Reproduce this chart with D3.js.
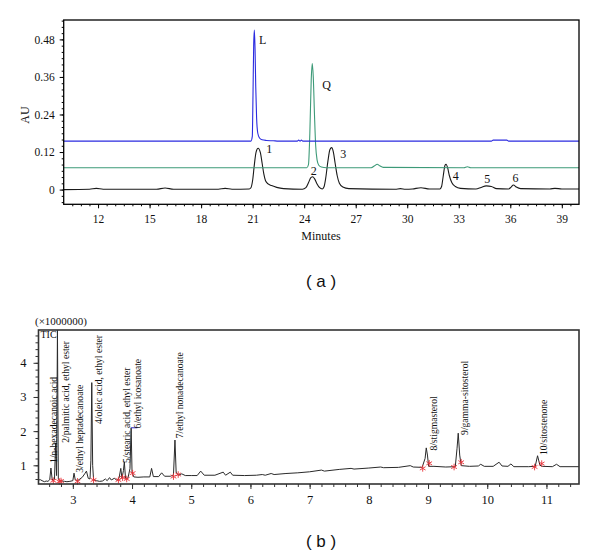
<!DOCTYPE html>
<meta charset="utf-8">
<style>
body { margin: 0; background: #fff; }
svg text { font-family: "Liberation Serif", "Times New Roman", serif; fill: #111; }
.cap { font-family: "Liberation Sans", Arial, sans-serif !important; }
</style>
<body>
<script src="https://cdnjs.cloudflare.com/ajax/libs/d3/7.8.5/d3.min.js"></script>
<script>

// ---- panel (a): HPLC, minutes vs AU ----
var aXTicks = [12, 15, 18, 21, 24, 27, 30, 33, 36, 39];
var aYTicks = [0, 0.12, 0.24, 0.36, 0.48];

var traceL = [[10,0.155],[20.9,0.155],[20.98,0.17],[21.02,0.3],[21.06,0.46],[21.1,0.51],[21.14,0.45],
  [21.18,0.33],[21.23,0.23],[21.3,0.18],[21.4,0.165],[21.55,0.159],[21.8,0.157],[22.2,0.156],[22.5,0.155],
  [23.6,0.155],[23.68,0.158],[23.76,0.155],[23.84,0.158],[23.92,0.155],[34.9,0.155],[35.0,0.158],
  [35.8,0.158],[35.9,0.155],[40,0.155]];

var traceQ = [[10,0.07],[24.15,0.07],[24.25,0.08],[24.33,0.18],[24.41,0.35],[24.47,0.403],[24.53,0.36],
  [24.6,0.24],[24.67,0.14],[24.75,0.095],[24.85,0.078],[25.0,0.072],[25.3,0.07],[27.9,0.07],[28.1,0.076],
  [28.25,0.081],[28.4,0.076],[28.6,0.071],[33.3,0.07],[33.5,0.073],[33.7,0.07],[40,0.07]];

var traceS = [[10,0],[11.5,0.001],[11.9,0.004],[12.3,0.001],[15.4,0.001],[15.9,0.005],[16.4,0.001],
  [19.0,0.001],[19.4,0.004],[19.8,0.001],[20.8,0.002],[20.9,0.006],[21.0,0.03],[21.1,0.08],[21.2,0.12],
  [21.32,0.132],[21.45,0.118],[21.55,0.085],[21.65,0.05],[21.75,0.028],[21.9,0.018],[22.1,0.013],
  [22.4,0.007],[22.8,0.003],[23.9,0.001],[24.1,0.006],[24.25,0.022],[24.4,0.039],[24.5,0.041],
  [24.6,0.035],[24.75,0.018],[24.9,0.006],[25.05,0.002],[25.15,0.008],[25.25,0.035],[25.38,0.09],
  [25.5,0.128],[25.6,0.134],[25.7,0.12],[25.8,0.085],[25.92,0.045],[26.05,0.02],[26.25,0.008],
  [26.6,0.003],[29.3,0.001],[29.6,0.003],[29.9,0.001],[30.3,0.002],[30.8,0.006],[31.3,0.002],
  [31.9,0.002],[32.0,0.01],[32.1,0.045],[32.2,0.078],[32.26,0.081],[32.35,0.07],[32.45,0.045],
  [32.6,0.022],[32.8,0.01],[33.1,0.004],[34.0,0.002],[34.3,0.007],[34.6,0.012],[34.9,0.01],[35.2,0.003],
  [35.9,0.002],[36.05,0.008],[36.18,0.0145],[36.35,0.008],[36.6,0.003],[38.3,0.002],[38.6,0.004],
  [39.0,0.002],[40,0.002]];

var aLabels = [["L",21.59,0.465],["Q",25.3,0.32],["1",21.96,0.117],["2",24.56,0.046],
  ["3",26.27,0.10],["4",32.82,0.03],["5",34.66,0.02],["6",36.3,0.023]];

// ---- panel (b): GC-MS TIC ----
var bXTicks = [3, 4, 5, 6, 7, 8, 9, 10, 11];
var bYTicks = [1, 2, 3, 4];

var tic = [[2.42,0.57],[2.45,0.58],[2.48,0.55],[2.52,0.52],[2.55,0.54],[2.58,0.53],[2.61,0.58],[2.63,0.92],
  [2.65,0.6],[2.67,0.55],[2.69,0.6],[2.71,1.65],[2.725,0.7],[2.74,4.96],[2.755,0.6],[2.78,0.55],[2.82,0.54],
  [2.86,0.53],[2.9,0.52],[2.95,0.53],[3.0,0.55],[3.02,0.77],[3.04,0.58],[3.08,0.55],[3.12,0.6],[3.16,0.65],
  [3.2,0.75],[3.23,0.83],[3.26,0.62],[3.29,0.6],[3.305,1.15],[3.32,3.42],[3.335,1.0],[3.35,0.58],
  [3.4,0.55],[3.45,0.53],[3.5,0.54],[3.55,0.6],[3.58,0.55],[3.62,0.64],[3.65,0.57],[3.7,0.62],[3.74,0.57],
  [3.78,0.62],[3.81,0.91],[3.83,0.62],[3.855,0.85],[3.87,1.1],[3.89,0.62],[3.93,0.62],[3.965,0.9],
  [3.985,2.1],[4.0,0.8],[4.03,0.66],[4.1,0.65],[4.2,0.66],[4.3,0.66],[4.33,0.91],[4.36,0.67],[4.45,0.67],
  [4.5,0.78],[4.55,0.68],[4.65,0.68],[4.7,0.72],[4.725,1.74],[4.745,0.8],[4.78,0.71],[4.84,0.75],
  [4.9,0.7],[5.0,0.7],[5.1,0.7],[5.16,0.83],[5.22,0.71],[5.4,0.71],[5.54,0.8],[5.58,0.71],[5.66,0.8],
  [5.7,0.71],[5.9,0.7],[6.1,0.71],[6.2,0.73],[6.25,0.71],[6.35,0.76],[6.4,0.73],[6.6,0.76],[6.8,0.78],
  [7.0,0.81],[7.2,0.86],[7.25,0.83],[7.5,0.88],[7.7,0.91],[7.75,0.89],[8.0,0.92],[8.2,0.95],[8.25,0.93],
  [8.5,0.94],[8.7,0.99],[8.75,0.95],[8.9,0.94],[8.95,1.2],[8.97,1.51],[8.99,1.3],[9.01,0.97],[9.1,0.97],
  [9.3,0.95],[9.46,0.96],[9.49,1.5],[9.51,1.94],[9.535,1.3],[9.56,0.99],[9.7,0.97],[9.85,0.98],
  [9.89,1.03],[9.95,0.97],[10.1,0.97],[10.2,1.09],[10.25,0.98],[10.35,0.97],[10.4,1.04],[10.45,0.96],
  [10.7,0.96],[10.81,0.97],[10.85,1.28],[10.89,1.0],[10.93,0.97],[11.1,0.96],[11.17,1.03],[11.23,0.96],
  [11.55,0.96]];

var bMarks = [[2.67,0.55],[2.77,0.53],[2.8,0.54],[3.08,0.53],[3.35,0.57],[3.77,0.57],[3.84,0.64],
  [3.91,0.6],[4.01,0.77],[4.7,0.67],[4.78,0.73],[8.91,0.91],[9.02,1.06],[9.44,0.95],[9.56,1.09],
  [10.8,0.95],[10.92,1.05]];

var bLabels = [["1/n-hexadecanoic acid",2.67,1.07],["2/palmitic acid, ethyl ester",2.88,1.66],
  ["3/ethyl heptadecanoate",3.12,0.78],["4/oleic acid, ethyl ester",3.43,2.21],
  ["5/stearic acid, ethyl ester",3.91,1.07],["6/ethyl icosanoate",4.09,2.08],
  ["7/ethyl nonadecanoate",4.81,1.79],["8/stigmasterol",9.09,1.43],
  ["9/gamma-sitosterol",9.61,1.89],["10/sitostenone",10.95,1.3]];

var svg = d3.select("body").append("svg")
	.attr("width", 600)
	.attr("height", 558);

// ===== panel (a) =====
var xA = d3.scaleLinear().domain([10, 40]).range([63.7, 579]);
var yA = d3.scaleLinear().domain([-0.047, 0.542]).range([204.3, 20]);

var gA = svg.append("g");

gA.append("g")
	.attr("transform", "translate(0,204.3)")
	.call(d3.axisBottom(xA).tickValues(d3.range(10.5, 40, 0.5)).tickSize(2).tickFormat(""));
gA.append("g")
	.attr("transform", "translate(0,204.3)")
	.call(d3.axisBottom(xA).tickValues(aXTicks).tickSize(4).tickPadding(7));
gA.append("g")
	.attr("transform", "translate(63.7,0)")
	.call(d3.axisLeft(yA).tickValues(d3.range(-0.04, 0.541, 0.02)).tickSize(2).tickFormat(""));
gA.append("g")
	.attr("transform", "translate(63.7,0)")
	.call(d3.axisLeft(yA).tickValues(aYTicks).tickSize(4).tickPadding(5).tickFormat(d3.format("")));

gA.selectAll(".domain").remove();
gA.selectAll(".tick text").style("font-size", "11.5px").style("font-family", "Liberation Serif");

var lineA = d3.line()
	.x(function(d) { return xA(d[0]); })
	.y(function(d) { return yA(d[1]); })
	.curve(d3.curveMonotoneX);

gA.append("path").datum(traceS).attr("d", lineA)
	.attr("fill", "none").attr("stroke", "#1a1a1a").attr("stroke-width", 1.1);
gA.append("path").datum(traceQ).attr("d", lineA)
	.attr("fill", "none").attr("stroke", "#3d9a78").attr("stroke-width", 1.1);
gA.append("path").datum(traceL).attr("d", lineA)
	.attr("fill", "none").attr("stroke", "#2b2be0").attr("stroke-width", 1.1);

gA.append("rect")
	.attr("x", 63.7).attr("y", 20)
	.attr("width", 579 - 63.7).attr("height", 204.3 - 20)
	.attr("fill", "none").attr("stroke", "#000").attr("stroke-width", 1.3);

gA.selectAll(".plabel").data(aLabels).enter().append("text")
	.attr("x", function(d) { return xA(d[1]); })
	.attr("y", function(d) { return yA(d[2]); })
	.attr("text-anchor", "middle")
	.style("font-size", "12px")
	.text(function(d) { return d[0]; });

gA.append("text")
	.attr("transform", "translate(29,115) rotate(-90)")
	.attr("text-anchor", "middle")
	.style("font-size", "12px")
	.text("AU");
gA.append("text")
	.attr("x", 321).attr("y", 240)
	.attr("text-anchor", "middle")
	.style("font-size", "12px")
	.text("Minutes");
gA.append("text")
	.attr("class", "cap")
	.attr("x", 321).attr("y", 287)
	.attr("text-anchor", "middle")
	.style("font-size", "17px")
	.text("( a )");

// ===== panel (b) =====
var xB = d3.scaleLinear().domain([2.42, 11.55]).range([38.5, 579]);
var yB = d3.scaleLinear().domain([0.453, 4.96]).range([484, 330]);

var gB = svg.append("g");

gB.append("g")
	.attr("transform", "translate(0,484)")
	.call(d3.axisBottom(xB).tickValues(d3.range(2.6, 11.5, 0.2)).tickSize(3).tickFormat(""));
gB.append("g")
	.attr("transform", "translate(0,484)")
	.call(d3.axisBottom(xB).tickValues(bXTicks).tickSize(5).tickPadding(6).tickFormat(d3.format("d")));
gB.append("g")
	.attr("transform", "translate(38.5,0)")
	.call(d3.axisLeft(yB).tickValues(d3.range(0.6, 4.9, 0.2)).tickSize(3).tickFormat(""));
gB.append("g")
	.attr("transform", "translate(38.5,0)")
	.call(d3.axisLeft(yB).tickValues(bYTicks).tickSize(5).tickPadding(7).tickFormat(d3.format("d")));

gB.selectAll(".domain").remove();
gB.selectAll(".tick line").attr("stroke", "#333");
gB.selectAll(".tick text").style("font-size", "12.5px").style("font-family", "Liberation Serif");

var lineB = d3.line()
	.x(function(d) { return xB(d[0]); })
	.y(function(d) { return yB(d[1]); });

gB.append("path").datum(tic).attr("d", lineB)
	.attr("fill", "none").attr("stroke", "#2a2a2a").attr("stroke-width", 1);

// peak start/end markers
gB.selectAll(".mk").data(bMarks).enter().append("path")
	.attr("transform", function(d) { return "translate(" + xB(d[0]) + "," + yB(d[1]) + ")"; })
	.attr("d", d3.symbol().type(d3.symbolAsterisk).size(30))
	.attr("fill", "none").attr("stroke", "#e8333a").attr("stroke-width", 0.9);

// blue bar at peak 6 top
gB.append("line")
	.attr("x1", xB(3.985)).attr("x2", xB(4.09))
	.attr("y1", yB(2.1)).attr("y2", yB(2.1))
	.attr("stroke", "#4a4ad8").attr("stroke-width", 1.2);

gB.append("rect")
	.attr("x", 38.5).attr("y", 330)
	.attr("width", 579 - 38.5).attr("height", 484 - 330)
	.attr("fill", "none").attr("stroke", "#333").attr("stroke-width", 1.6);

gB.selectAll(".blabel").data(bLabels).enter().append("text")
	.attr("transform", function(d) { return "translate(" + xB(d[1]) + "," + yB(d[2]) + ") rotate(-90)"; })
	.attr("dy", "0.35em")
	.style("font-size", "9.6px")
	.text(function(d) { return d[0]; });

gB.append("text")
	.attr("x", 35).attr("y", 325)
	.style("font-size", "11px")
	.text("(\u00d71000000)");
gB.append("text")
	.attr("x", 40.5).attr("y", 337.5)
	.style("font-size", "10px")
	.text("TIC");
gB.append("text")
	.attr("class", "cap")
	.attr("x", 321).attr("y", 547)
	.attr("text-anchor", "middle")
	.style("font-size", "17px")
	.text("( b )");

</script>
</body>
